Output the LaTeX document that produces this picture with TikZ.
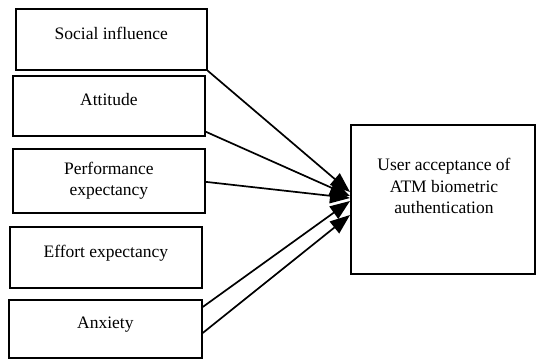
\documentclass[tikz,border=0pt]{standalone}
\usepackage{fontspec}
\setmainfont{Liberation Serif}
\usetikzlibrary{arrows.meta,calc}
\begin{document}
\begin{tikzpicture}[x=1pt,y=-1pt,
  box/.style={draw,line width=1.7pt,anchor=north west,inner sep=0pt,align=center,
    font=\fontsize{17.5}{21.5}\selectfont},
  raised/.style={text depth=12pt},
  txt/.style={align=center,inner sep=0pt,font=\fontsize{17.5}{21.5}\selectfont},
  conn/.style={line width=1.7pt,-{Triangle[length=20pt,width=15pt]}}]
\useasboundingbox (0,0) rectangle (536,360);
\node[box,raised,minimum width=191pt,minimum height=61pt] (soc) at (15,8) {Social influence};
\node[box,raised,minimum width=192pt,minimum height=60pt] (att) at (12,75) {Attitude};
\node[box,minimum width=192pt,minimum height=64pt] (perf) at (12,148) {Performance\\expectancy};
\node[box,raised,minimum width=192pt,minimum height=61pt] (eff) at (9,226) {Effort expectancy};
\node[box,raised,minimum width=193pt,minimum height=58pt] (anx) at (8,299) {Anxiety};
\node[box,minimum width=184pt,minimum height=149pt] (user) at (350,124) {};
\node[txt] (usertxt) at (444,186) {User acceptance of\\ATM biometric\\authentication};
\coordinate (t1) at ($(user.north west)+(0,68)$);
\coordinate (t2) at ($(user.north west)+(0,72)$);
\coordinate (t3) at ($(user.north west)+(0,74)$);
\coordinate (t4) at ($(user.north west)+(0,77)$);
\coordinate (t5) at ($(user.north west)+(0,91)$);
\draw[conn] (soc.south east) -- (t1);
\draw[conn] ($(att.south east)+(0,-5)$) -- (t2);
\draw[conn] ($(perf.east)+(0,1)$) -- (t3);
\draw[conn] ($(anx.north east)+(0,8)$) -- (t4);
\draw[conn] ($(anx.north east)+(0,34)$) -- (t5);
\end{tikzpicture}
\end{document}
